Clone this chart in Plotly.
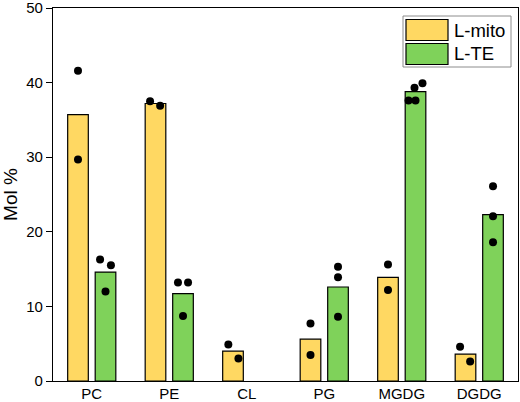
import plotly.graph_objects as go

# lipid classes
categories = ['PC', 'PE', 'CL', 'PG', 'MGDG', 'DGDG']

# bar heights (Mol %)
mito_mean = [35.7, 37.2, 4.0, 5.6, 13.9, 3.6]
te_mean = [14.6, 11.7, None, 12.6, 38.8, 22.3]

# individual replicates
mito_reps = [[41.6, 29.7], [37.5, 36.9], [4.9, 3.0], [7.7, 3.5], [15.6, 12.2], [4.6, 2.6]]
te_reps = [[16.3, 15.5, 12.0], [13.2, 13.2, 8.7], [], [15.3, 13.9, 8.6],
           [39.3, 39.9, 37.6, 37.6], [26.1, 22.1, 18.6]]

# horizontal spread of the dots so they don't sit on top of each other
mito_jit = [[0, 0], [-0.07, 0.06], [-0.06, 0.07], [0, 0], [0, 0], [-0.07, 0.06]]
te_jit = [[-0.07, 0.07, 0], [-0.065, 0.065, 0], [], [0, 0, 0],
          [-0.013, 0.09, -0.09, 0], [0, 0, 0]]

yellow = '#FFD862'
green = '#7FD25A'
font = 'Arial, Liberation Sans, sans-serif'

bargap = 0.29
groupgap = 0.25
half = (1 - bargap) / 4  # distance of each bar centre from the category centre

xs = list(range(len(categories)))

fig = go.Figure()
fig.add_trace(go.Bar(x=xs, y=mito_mean, name='L-mito', marker_color=yellow,
                     marker_line=dict(color='black', width=1.2)))
fig.add_trace(go.Bar(x=xs, y=te_mean, name='L-TE', marker_color=green,
                     marker_line=dict(color='black', width=1.2)))

dx, dy = [], []
for i in xs:
    for v, j in zip(mito_reps[i], mito_jit[i]):
        dx.append(i - half + j)
        dy.append(v)
    for v, j in zip(te_reps[i], te_jit[i]):
        dx.append(i + half + j)
        dy.append(v)
fig.add_trace(go.Scatter(x=dx, y=dy, mode='markers',
                         marker=dict(color='black', size=8), showlegend=False))

W, H = 520, 402
ml, mr, mt, mb = 53, 2, 8, 21


def px(x):
    return (x - ml) / (W - ml - mr)


def py(y):
    return (H - mb - y) / (H - mt - mb)


# legend drawn by hand so the swatches get the wide Origin look
shapes = [dict(type='rect', xref='paper', yref='paper', x0=px(403), x1=px(511),
               y0=py(67), y1=py(16), line=dict(color='#8c8c8c', width=1),
               fillcolor='white', layer='above')]
annotations = []
for k, (lab, col) in enumerate([('L-mito', yellow), ('L-TE', green)]):
    top = 19.5 + k * 24
    shapes.append(dict(type='rect', xref='paper', yref='paper', x0=px(406), x1=px(448),
                       y0=py(top + 21), y1=py(top), fillcolor=col,
                       line=dict(color='black', width=1.2), layer='above'))
    annotations.append(dict(text=lab, xref='paper', yref='paper', x=px(452), y=py(top + 10.5),
                            xanchor='left', yanchor='middle', showarrow=False,
                            font=dict(size=18.5, color='black', family=font)))

fig.update_layout(
    width=W, height=H,
    margin=dict(l=ml, r=mr, t=mt, b=mb),
    plot_bgcolor='white', paper_bgcolor='white',
    barmode='group', bargap=bargap, bargroupgap=groupgap,
    showlegend=False,
    font=dict(family=font, size=15.5, color='black'),
    shapes=shapes, annotations=annotations,
)
fig.update_xaxes(range=[-0.5, 5.5], tickvals=xs, ticktext=categories, ticks='',
                 showline=True, linecolor='black', linewidth=1.3, mirror=True,
                 showgrid=False, zeroline=False, automargin=False,
                 ticklabeloverflow='allow', ticklabelstandoff=-1,
                 tickfont=dict(size=15))
fig.update_yaxes(range=[0, 50], tickvals=[0, 10, 20, 30, 40, 50], ticks='outside',
                 ticklen=6, tickwidth=1.3, tickcolor='black',
                 showline=True, linecolor='black', linewidth=1.3, mirror=True,
                 showgrid=False, zeroline=False, automargin=False,
                 ticklabeloverflow='allow',
                 title=dict(text='Mol %', font=dict(size=19), standoff=6),
                 tickfont=dict(size=15))

# drop the browser's default page margin so the figure sits at the window corner
fig.write_html("out.html", config={'displayModeBar': False},
               post_script="document.body.style.margin='0px';")
